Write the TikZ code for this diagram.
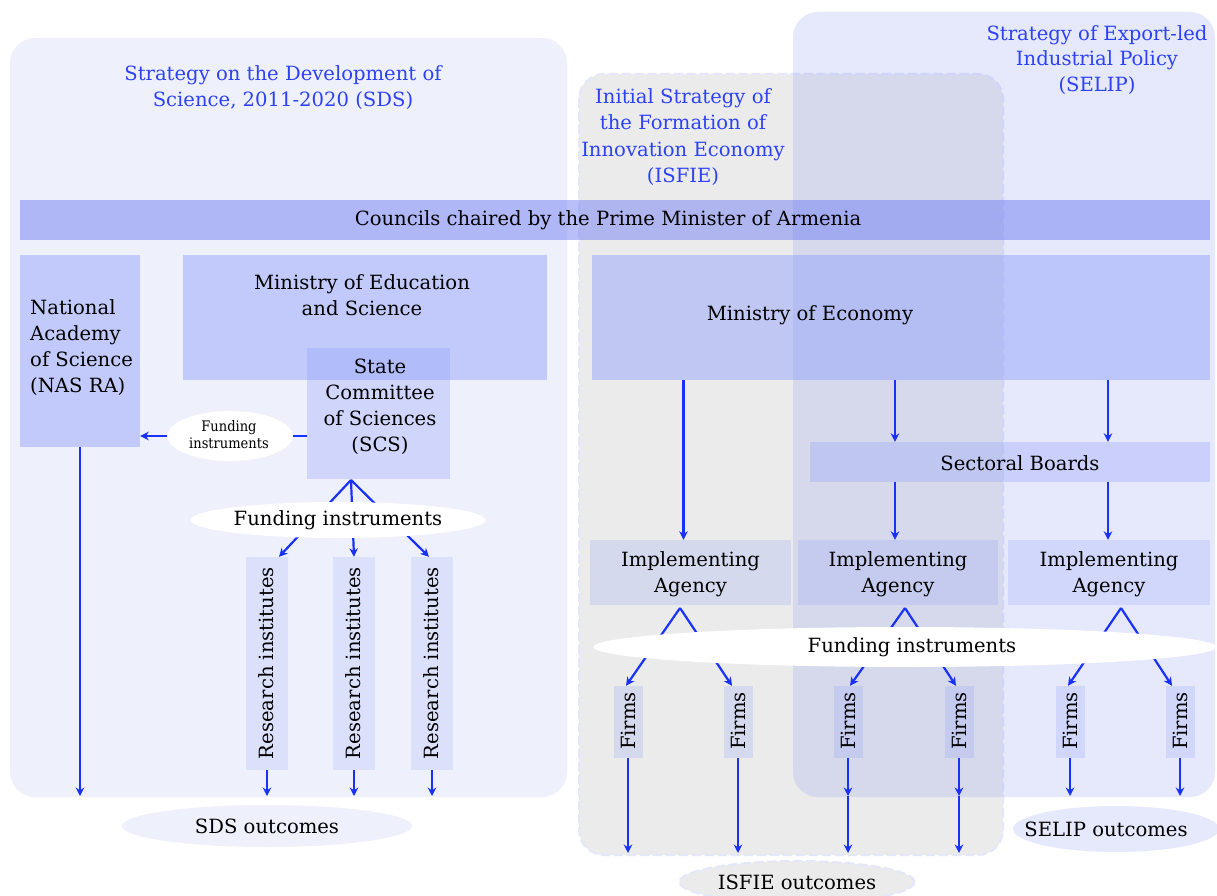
\documentclass[tikz,border=0pt]{standalone}
\usepackage{fontspec}
\setmainfont{DejaVu Serif}
\newfontfamily\condserif{DejaVu Serif Condensed}
\usetikzlibrary{arrows.meta,shapes.geometric}

\definecolor{titleblue}{RGB}{45,65,245}
\definecolor{arrowblue}{RGB}{25,50,250}
\definecolor{sdsbg}{RGB}{238,240,252}
\definecolor{isfiebg}{RGB}{235,235,235}
\definecolor{isfieedge}{RGB}{228,231,250}
\definecolor{selipc}{RGB}{130,140,240}
\definecolor{selipbg}{RGB}{230,232,252}
\definecolor{boxc}{RGB}{150,165,250}
\definecolor{barc}{RGB}{114,128,244}

\tikzset{
  region/.style={rounded corners=25pt},
  blk/.style={rectangle, inner sep=0pt, draw=none, fill=boxc},
  lbl/.style={font=\fontsize{19.6}{26}\selectfont, align=center, inner sep=0pt, text=black},
  ttl/.style={lbl, text=titleblue},
  small/.style={font=\condserif\fontsize{14.5}{17}\selectfont, align=center, inner sep=0pt},
  oval/.style={ellipse, inner sep=0pt, draw=none, fill=white},
  ln/.style={draw=arrowblue, line width=2.2pt},
  arr/.style={ln, -{Stealth[length=8.5pt,width=8.5pt]}}
}

\begin{document}
\begin{tikzpicture}[x=1pt,y=-1pt]
\useasboundingbox (0,0) rectangle (1217,896);
\fill[white] (0,0) rectangle (1217,896);

% strategy areas
\fill[sdsbg, region] (10,38) rectangle (567,797);
\draw[isfieedge, dash pattern=on 9pt off 4pt, line width=2pt, fill=isfiebg, region]
  (579,74) rectangle (1003,855);
\fill[selipc, fill opacity=0.2, region] (793,12) rectangle (1215,797);

% strategy titles
\node[ttl] (sdsT) at (283,88) {Strategy on the Development of\\Science, 2011-2020 (SDS)};
\node[ttl, font=\fontsize{19.6}{26.5}\selectfont] (isfieT) at (683,137) {Initial Strategy of\\the Formation of\\Innovation Economy\\(ISFIE)};
\node[ttl, font=\fontsize{19.6}{25.5}\selectfont] (selipT) at (1097,60) {Strategy of Export-led\\Industrial Policy\\(SELIP)};

% councils bar
\node[blk, fill=barc, fill opacity=0.5, minimum width=1190pt, minimum height=40pt] (council) at (615,220) {};
\node[lbl] (councilT) at (608,220) {Councils chaired by the Prime Minister of Armenia};

% science side
\node[blk, fill opacity=0.5, minimum width=120pt, minimum height=192pt] (nas) at (80,351) {};
\node[lbl, align=left, anchor=west] (nasT) at (30,348) {National\\Academy\\of Science\\(NAS RA)};
\node[blk, fill opacity=0.5, minimum width=364pt, minimum height=125pt] (moe) at (365,317.5) {};
\node[lbl] (moeT) at (362,295) {Ministry of Education\\and Science};
\node[blk, fill opacity=0.35, minimum width=143pt, minimum height=131pt] (scs) at (378.5,413.5) {};
\node[lbl] (scsT) at (380,407) {State\\Committee\\of Sciences\\(SCS)};

\foreach \n/\x in {ri1/267, ri2/354, ri3/432}{
  \node[blk, fill opacity=0.2, minimum width=42pt, minimum height=213pt] (\n) at (\x,663.5) {};
  \node[lbl, rotate=90] (\n T) at (\x-1,663) {Research institutes};
}

\coordinate (scsApex) at (351,480);
\coordinate (sdsLine) at (0,796);
\draw[arr] (scsApex) -- ([xshift=12pt]ri1.north);
\draw[arr] (scsApex) -- (ri2.north);
\draw[arr] (scsApex) -- ([xshift=-3pt]ri3.north);
\foreach \n in {ri1,ri2,ri3}{
  \draw[arr] (\n.south) -- (\n.south |- sdsLine);
}
\draw[arr] (nas.south) -- (nas.south |- sdsLine);

\node[oval, minimum width=125pt, minimum height=50pt] (fiSmall) at (230,436) {};
\node[small] (fiSmallT) at (229,435) {Funding\\instruments};
\draw[ln] (fiSmall.east -| scs.west) -- (fiSmall.east);
\draw[arr] (fiSmall.west) -- (fiSmall.west -| nas.east);

\node[oval, minimum width=290pt, minimum height=36pt, lbl] (fiSds) at (338,520) {Funding instruments};
\node[oval, fill=sdsbg, minimum width=290pt, minimum height=42pt, lbl] (sdsOut) at (267,826) {SDS outcomes};

% economy side
\node[blk, fill opacity=0.5, minimum width=618pt, minimum height=125pt] (me) at (901,317.5) {};
\node[lbl] (meT) at (810,315) {Ministry of Economy};
\node[blk, fill opacity=0.35, minimum width=400pt, minimum height=40pt] (sb) at (1010,462) {};
\node[lbl] (sbT) at (1020,463) {Sectoral Boards};

\foreach \n/\x/\w in {ia1/690.5/201, ia2/898/200, ia3/1109/202}{
  \node[blk, fill opacity=0.25, minimum width=\w pt, minimum height=65pt] (\n) at (\x,572.5) {};
  \node[lbl] (\n T) at (\x,574) {Implementing\\Agency};
}

\draw[arr] ([xshift=-7pt]ia1.north |- me.south) -- ([xshift=-7pt]ia1.north);
\draw[arr] ([xshift=-3pt]ia2.north |- me.south) -- ([xshift=-3pt]ia2.north |- sb.north);
\draw[arr] ([xshift=-1pt]ia3.north |- me.south) -- ([xshift=-1pt]ia3.north |- sb.north);
\draw[arr] ([xshift=-3pt]ia2.north |- sb.south) -- ([xshift=-3pt]ia2.north);
\draw[arr] ([xshift=-1pt]ia3.north |- sb.south) -- ([xshift=-1pt]ia3.north);

\foreach \n/\x in {f1/628, f2/738, f3/848, f4/959, f5/1070, f6/1180}{
  \node[blk, fill opacity=0.25, minimum width=29pt, minimum height=72pt] (\n) at (\x,722) {};
  \node[lbl, rotate=90] (\n T) at (\x,721) {Firms};
}

\coordinate (apex1) at (680,608);
\coordinate (apex2) at (905,608);
\coordinate (apex3) at (1121,608);
\coordinate (isfieLine) at (0,853);
\draw[arr] (apex1) -- ([xshift=-2pt]f1.north);
\draw[arr] (apex1) -- ([xshift=-6pt]f2.north);
\draw[arr] (apex2) -- ([xshift=2pt]f3.north);
\draw[arr] (apex2) -- ([xshift=-3pt]f4.north);
\draw[arr] (apex3) -- ([xshift=-2pt]f5.north);
\draw[arr] (apex3) -- ([xshift=-8pt]f6.north);

\draw[arr] (f1.south) -- (f1.south |- isfieLine);
\draw[arr] (f2.south) -- (f2.south |- isfieLine);
\foreach \n in {f3,f4}{
  \draw[arr] (\n.south) -- (\n.south |- sdsLine);
  \draw[arr] (\n.south |- sdsLine) -- (\n.south |- isfieLine);
}
\draw[arr] (f5.south) -- (f5.south |- sdsLine);
\draw[arr] (f6.south) -- (f6.south |- sdsLine);

\node[oval, minimum width=623pt, minimum height=40pt] (fiBig) at (905,647) {};
\node[lbl] (fiBigT) at (912,647) {Funding instruments};

% outcomes
\node[oval, fill=isfiebg, draw=isfieedge, dash pattern=on 9pt off 4pt, line width=2pt, minimum width=235pt, minimum height=42pt, lbl] (isfieOut) at (797,882) {ISFIE outcomes};
\node[oval, fill=selipbg, minimum width=206pt, minimum height=46pt] (selipOut) at (1116,829) {};
\node[lbl] (selipOutT) at (1106,829) {SELIP outcomes};
\end{tikzpicture}
\end{document}
